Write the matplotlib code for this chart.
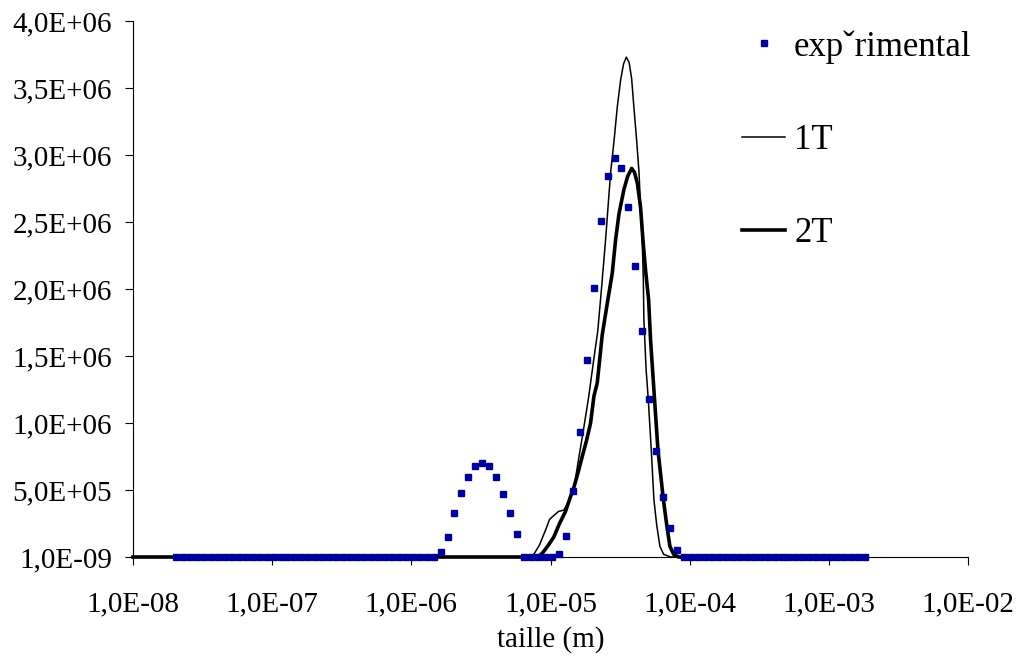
import numpy as np
import matplotlib
matplotlib.use("Agg")
import matplotlib.pyplot as plt

# ─── Data (x given as log10 of size in metres, y in particles) ───────────────

exp_log = [-7.69, -7.64, -7.59, -7.54, -7.49, -7.44, -7.39, -7.34, -7.29, -7.24,
           -7.19, -7.14, -7.09, -7.04, -6.99, -6.94, -6.89, -6.84, -6.79, -6.74,
           -6.69, -6.64, -6.59, -6.54, -6.49, -6.44, -6.39, -6.34, -6.29, -6.24,
           -6.19, -6.14, -6.09, -6.04, -5.99, -5.94, -5.89, -5.84,
           -5.79, -5.74, -5.69, -5.64, -5.59, -5.54, -5.49, -5.44, -5.39, -5.34,
           -5.29, -5.24,
           -5.19, -5.14, -5.09, -5.04, -4.99,
           -4.94, -4.89, -4.84, -4.79, -4.74, -4.69, -4.64, -4.59, -4.54, -4.49,
           -4.44, -4.39, -4.34, -4.29, -4.24, -4.19, -4.14, -4.09,
           -4.04, -3.99, -3.94, -3.89, -3.84, -3.79, -3.74, -3.69, -3.64, -3.59,
           -3.54, -3.49, -3.44, -3.39, -3.34, -3.29, -3.24, -3.19, -3.14, -3.09,
           -3.04, -2.99, -2.94, -2.89, -2.84, -2.79, -2.74]
exp_val = [0] * 38 + \
          [0.04e6, 0.15e6, 0.33e6, 0.48e6, 0.60e6, 0.68e6, 0.70e6, 0.68e6, 0.60e6,
           0.47e6, 0.33e6, 0.17e6] + \
          [0] * 5 + \
          [0.02e6, 0.16e6, 0.49e6, 0.93e6, 1.47e6, 2.01e6, 2.51e6, 2.84e6, 2.98e6,
           2.90e6, 2.61e6, 2.17e6, 1.69e6, 1.18e6, 0.79e6, 0.45e6, 0.22e6, 0.05e6] + \
          [0] * 27

t1_log = [-8.0, -5.144, -5.120, -5.079, -5.036, -5.007, -4.976, -4.942, -4.904,
          -4.878, -4.856, -4.832, -4.803, -4.766, -4.725, -4.691, -4.660, -4.633,
          -4.604, -4.568, -4.543, -4.520, -4.496, -4.475, -4.455, -4.435, -4.417,
          -4.401, -4.381, -4.364, -4.353, -4.341, -4.333, -4.329, -4.313, -4.297,
          -4.276, -4.257, -4.237, -4.214, -4.187, -4.137, -2.8]
t1_val = [0, 0, 0.02e6, 0.09e6, 0.20e6, 0.28e6, 0.31e6, 0.34e6, 0.35e6,
          0.40e6, 0.45e6, 0.51e6, 0.70e6, 0.93e6, 1.20e6, 1.46e6, 1.69e6, 2.01e6,
          2.37e6, 2.87e6, 3.11e6, 3.36e6, 3.56e6, 3.68e6, 3.73e6, 3.69e6, 3.57e6,
          3.36e6, 3.11e6, 2.87e6, 2.61e6, 2.37e6, 2.07e6, 1.77e6, 1.40e6, 1.17e6,
          0.80e6, 0.43e6, 0.24e6, 0.08e6, 0.02e6, 0, 0]

t2_log = [-8.0, -5.086, -5.050, -5.014, -4.976, -4.935, -4.892, -4.863, -4.832,
          -4.802, -4.772, -4.741, -4.712, -4.688, -4.664, -4.628, -4.594, -4.556,
          -4.532, -4.508, -4.473, -4.446, -4.417, -4.396, -4.376, -4.353, -4.336,
          -4.317, -4.295, -4.281, -4.252, -4.228, -4.189, -4.165, -4.142, -4.115,
          -4.079, -2.8]
t2_val = [0, 0, 0.04e6, 0.09e6, 0.15e6, 0.25e6, 0.34e6, 0.43e6, 0.52e6,
          0.63e6, 0.75e6, 0.87e6, 1.00e6, 1.20e6, 1.30e6, 1.66e6, 1.88e6, 2.12e6,
          2.37e6, 2.56e6, 2.74e6, 2.84e6, 2.90e6, 2.87e6, 2.79e6, 2.61e6, 2.37e6,
          2.14e6, 1.92e6, 1.62e6, 1.17e6, 0.80e6, 0.43e6, 0.24e6, 0.08e6, 0.02e6,
          0, 0]

y_ticks = [0, 0.5e6, 1.0e6, 1.5e6, 2.0e6, 2.5e6, 3.0e6, 3.5e6, 4.0e6]
y_labels = ["1,0E-09", "5,0E+05", "1,0E+06", "1,5E+06", "2,0E+06",
            "2,5E+06", "3,0E+06", "3,5E+06", "4,0E+06"]
x_ticks = [1e-8, 1e-7, 1e-6, 1e-5, 1e-4, 1e-3, 1e-2]
x_labels = ["1,0E-08", "1,0E-07", "1,0E-06", "1,0E-05", "1,0E-04",
            "1,0E-03", "1,0E-02"]

# ─── Plot ────────────────────────────────────────────────────────────────────

plt.rcParams["font.family"] = ["Liberation Serif", "DejaVu Serif"]
FS = 21      # tick labels / axis title
FS_LEG = 25  # legend

fig = plt.figure(figsize=(10.16, 6.57), dpi=100)
ax = fig.add_axes([133 / 1016, 1 - 557 / 657, (968 - 133) / 1016, (557 - 21) / 657])

ax.plot(10 ** np.array(t2_log), t2_val, color="black", lw=2.6, clip_on=False,
        label="2T", zorder=2)
ax.plot(10 ** np.array(t1_log), t1_val, color="black", lw=1.1, clip_on=False,
        label="1T", zorder=3)
ax.plot(10 ** np.array(exp_log), exp_val, ls="none", marker="s", ms=5,
        color="#000099", mec="#000099", clip_on=False, label="exp\u02c7rimental",
        zorder=4)

ax.set_xscale("log")
ax.set_xlim(1e-8, 1e-2)
ax.set_ylim(0, 4e6)
ax.set_xticks(x_ticks)
ax.set_xticklabels(x_labels)
ax.minorticks_off()
ax.set_yticks(y_ticks)
ax.set_yticklabels(y_labels)
ax.tick_params(labelsize=FS, length=6, width=0.8, color="black", direction="out")
ax.tick_params(axis="y", pad=9)
ax.tick_params(axis="x", pad=19)
for s in ["top", "right"]:
    ax.spines[s].set_visible(False)
for s in ["left", "bottom"]:
    ax.spines[s].set_linewidth(0.8)
ax.set_xlabel("taille (m)", fontsize=FS, labelpad=6)

h, l = ax.get_legend_handles_labels()
order = [2, 1, 0]
fig.legend([h[i] for i in order], [l[i] for i in order], loc="upper left",
           bbox_to_anchor=(742 / 1016, 1 - 30 / 657), frameon=False, fontsize=FS_LEG,
           borderpad=0, borderaxespad=0, handlelength=1.25, handletextpad=0.25,
           labelspacing=1.74, markerscale=1.0)

fig.savefig("out.png", dpi=100)
